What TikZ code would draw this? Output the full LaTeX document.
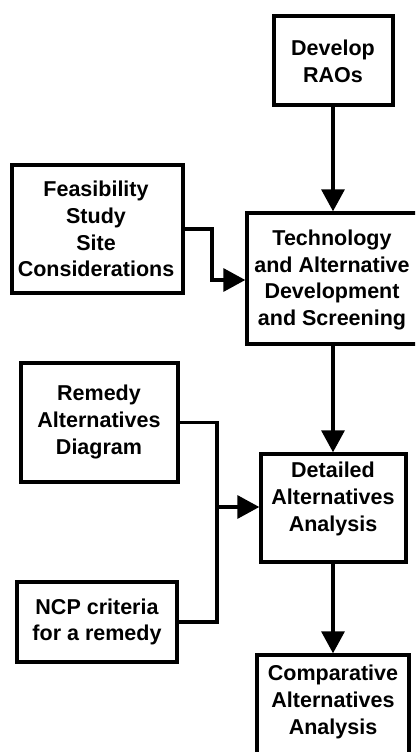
\documentclass[tikz,border=0pt]{standalone}
\usepackage{fontspec}
\setmainfont{Liberation Sans}
\usetikzlibrary{arrows.meta}
\begin{document}
\begin{tikzpicture}[x=1pt,y=-1pt,
  box/.style={draw, line width=3.4pt, rectangle, inner sep=0pt},
  lbl/.style={font=\bfseries\fontsize{21.5}{26.7}\selectfont, align=center, inner sep=0pt},
  wire/.style={line width=3.4pt},
  conn/.style={wire, -{Triangle[length=22pt,width=23pt]}}]
\useasboundingbox (0,0) rectangle (415,752);
\clip (0,0) rectangle (415,752);

% boxes (drawn empty; text placed separately)
\node[box, minimum width=119pt, minimum height=89pt]  (dev)  at (333.5,60.5) {};
\node[box, minimum width=172pt, minimum height=131pt] (tech) at (333,278.5) {};
\node[box, minimum width=171pt, minimum height=128pt] (feas) at (97.5,229) {};
\node[box, minimum width=157pt, minimum height=119pt] (rem)  at (99.5,422.5) {};
\node[box, minimum width=160pt, minimum height=80pt]  (ncp)  at (97,622) {};
\node[box, minimum width=145pt, minimum height=108pt] (det)  at (333.5,508) {};
\node[box, minimum width=152pt, minimum height=110pt] (comp) at (333,710) {};

% labels
\node[lbl] (devtxt)  at (333,61)  {Develop\\RAOs};
\node[lbl] (techtxt) at (332,280) {Technology\\and Alternative\\Development\\and Screening};
\node[lbl] (feastxt) at (96,229)  {Feasibility\\Study\\Site\\Considerations};
\node[lbl] (remtxt)  at (99,422)  {Remedy\\Alternatives\\Diagram};
\node[lbl] (ncptxt)  at (97,622)  {NCP criteria\\for a remedy};
\node[lbl] (dettxt)  at (333,499) {Detailed\\Alternatives\\Analysis};
\node[lbl] (comptxt) at (333,702) {Comparative\\Alternatives\\Analysis};

% bend points of the side connectors
\coordinate (fjoin) at (212,280);
\coordinate (rjoin) at (217,507);

% connectors
\draw[conn] (dev.south -| tech.north) -- (tech.north);
\draw[conn] (feas.east) -| (fjoin) -- (fjoin -| tech.west);
\draw[conn] (tech.south) -- (tech.south |- det.north);
\draw[wire] (rem.east) -| (rjoin);
\draw[conn] (ncp.east) -| (rjoin) -- (rjoin -| det.west);
\draw[conn] (det.south -| comp.north) -- (comp.north);
\end{tikzpicture}
\end{document}
